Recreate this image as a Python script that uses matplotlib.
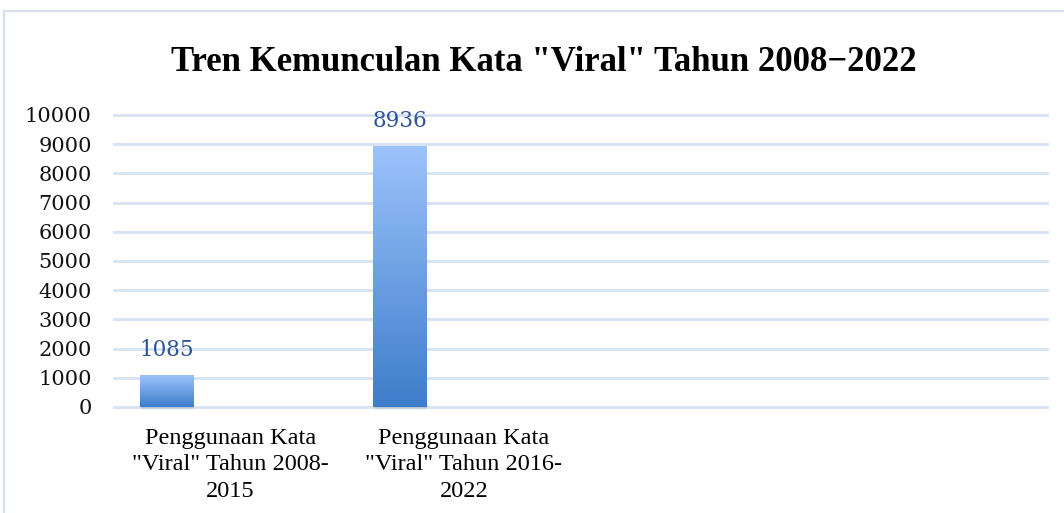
import matplotlib.pyplot as plt
import numpy as np
from matplotlib.patches import Rectangle
from matplotlib.colors import LinearSegmentedColormap

# data
categories = ['Penggunaan Kata\n"Viral" Tahun 2008-\n2015',
              'Penggunaan Kata\n"Viral" Tahun 2016-\n2022', '', '']
values = [1085, 8936]
yticks = list(range(0, 10001, 1000))
title = 'Tren Kemunculan Kata "Viral" Tahun 2008\u22122022'

W, H, DPI = 1064, 513, 100
fig = plt.figure(figsize=(W / DPI, H / DPI), dpi=DPI)

# chart frame (light blue border, running off right/bottom edge)
fig.patches.append(Rectangle((4 / W, -0.05), 1.1, 1 - 11 / H + 0.05,
                             transform=fig.transFigure, fill=False,
                             edgecolor='#D5DFEE', linewidth=1.5))

ax = fig.add_axes([114 / W, 1 - 407 / H, (1047 - 114) / W, (407 - 115) / H])
for s in ax.spines.values():
    s.set_visible(False)

for y in yticks:
    ax.axhline(y, color='#D6E1F1', linewidth=2, zorder=0, clip_on=False)

ax.set_yticks(yticks)
ax.set_yticklabels([str(t) for t in yticks], family='DejaVu Serif', fontsize=15, color='#111111')
ax.set_xticks(range(len(categories)))
ax.set_xticklabels(categories, family='Liberation Serif', fontsize=17.5, linespacing=1.35)
ax.tick_params(axis='both', length=0)
ax.tick_params(axis='y', pad=16)
ax.tick_params(axis='x', pad=15)

cmap = LinearSegmentedColormap.from_list('bar', ['#3E7DCB', '#9CC3FB'])
grad = np.linspace(0, 1, 256).reshape(-1, 1)
bw = 53 / 233
off = -0.275
for i, v in enumerate(values):
    x0 = i + off - bw / 2
    # soft shadow
    for k, a in enumerate([0.10, 0.07, 0.04]):
        ax.add_patch(Rectangle((x0 + 0.004, -(k + 1) * 35), bw, v,
                               color='#555555', alpha=a, lw=0, zorder=1, clip_on=False))
    im = ax.imshow(grad, cmap=cmap, aspect='auto', origin='lower',
                   extent=(x0, x0 + bw, 0, v), zorder=2)
    rect = Rectangle((x0, 0), bw, v, transform=ax.transData, fill=False, lw=0)
    ax.add_patch(rect)
    im.set_clip_path(rect)
    ax.text(i + off, v + 480, str(v), ha='center', va='bottom',
            family='DejaVu Serif', fontsize=15.5, color='#2E5597')

ax.set_xlim(-0.5, len(categories) - 0.5)
ax.set_ylim(0, 10000)

fig.text(544 / W, 1 - 63 / H, title, ha='center', va='center',
         family='Liberation Serif', fontweight='bold', fontsize=25)

fig.savefig('out.png', dpi=DPI)
